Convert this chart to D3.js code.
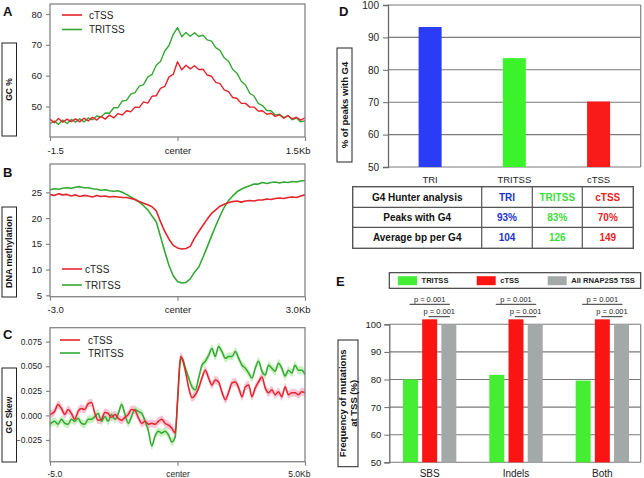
<!DOCTYPE html>
<html><head><meta charset="utf-8">
<script src="https://cdn.jsdelivr.net/npm/d3@7"></script>
<style>body{margin:0;background:#fff}svg{display:block;font-family:"Liberation Sans",Arial,Helvetica,sans-serif}</style>
</head><body><svg id="c" width="644" height="478"></svg>
<script>
// ---------- DATA ----------
const seriesNames = ['cTSS', 'TRITSS'];
// Panel A: GC %
const aKb = [-1.5,-1.45,-1.4,-1.35,-1.3,-1.25,-1.2,-1.15,-1.1,-1.05,-1,-0.95,-0.9,-0.85,-0.8,-0.75,-0.7,-0.65,-0.6,-0.55,-0.5,-0.45,-0.4,-0.35,-0.3,-0.25,-0.2,-0.15,-0.1,-0.05,0,0.05,0.1,0.15,0.2,0.25,0.3,0.35,0.4,0.45,0.5,0.55,0.6,0.65,0.7,0.75,0.8,0.85,0.9,0.95,1,1.05,1.1,1.15,1.2,1.25,1.3,1.35,1.4,1.45,1.5];
const aTRITSS = [44.4,45.3,44.2,45.6,44.5,45.8,44.9,46.0,45.0,46.3,45.7,46.9,46.6,47.9,47.8,49.6,49.6,51.8,52.0,54.0,54.5,56.6,57.1,59.5,60.4,63.4,64.6,68.0,69.8,73.4,75.6,72.6,74.0,72.8,73.9,72.7,73.1,71.6,71.2,69.1,68.2,65.8,64.7,62.0,60.8,58.2,57.0,54.3,53.4,51.0,50.3,48.7,48.6,47.2,47.5,46.4,47.0,45.7,46.3,45.0,45.4];
const aCTSS = [45.9,44.7,46.1,44.9,45.9,45.1,46.0,45.0,46.2,45.3,46.5,45.6,46.8,45.9,47.2,46.3,47.7,47.2,48.6,48.3,49.8,49.7,51.5,51.1,53.3,53.5,55.9,56.5,59.6,60.4,64.5,61.9,63.4,62.2,63.2,62.0,62.1,60.2,59.8,57.8,57.4,55.4,54.8,52.9,52.6,51.0,51.0,49.8,49.8,48.5,48.6,47.5,47.8,46.8,47.3,46.2,47.0,46.0,46.5,45.6,46.3];
const aYTicks = [50, 60, 70, 80];
const aXTicks = [-1.5, 0, 1.5];
const aXLabels = ['-1.5', 'center', '1.5Kb'];

// Panel B: DNA methylation
const bKb = [-3,-2.9,-2.8,-2.7,-2.6,-2.5,-2.4,-2.3,-2.2,-2.1,-2,-1.9,-1.8,-1.7,-1.6,-1.5,-1.4,-1.3,-1.2,-1.1,-1,-0.9,-0.8,-0.7,-0.6,-0.5,-0.4,-0.3,-0.2,-0.1,0,0.1,0.2,0.3,0.4,0.5,0.6,0.7,0.8,0.9,1,1.1,1.2,1.3,1.4,1.5,1.6,1.7,1.8,1.9,2,2.1,2.2,2.3,2.4,2.5,2.6,2.7,2.8,2.9,3];
const bTRITSS = [25.5,25.7,25.6,25.8,25.9,25.8,26.0,26.1,25.9,25.9,25.7,25.6,25.4,25.5,25.3,25.2,25.3,25.0,24.6,24.1,23.6,23.1,22.4,21.6,20.4,19.3,16.4,13.5,10.8,8.8,7.7,7.4,7.5,8.2,9.5,10.5,12.4,14.4,16.5,18.5,20.4,22.1,23.4,24.3,25.1,25.6,26.0,26.3,26.6,26.6,26.9,26.7,26.9,27.0,26.8,27.0,26.9,27.1,27.0,27.2,27.3];
const bCTSS = [24.6,24.4,24.7,24.5,24.6,24.3,24.5,24.2,24.4,24.3,24.1,24.4,24.2,24.3,24.1,24.2,24.1,24.0,24.0,23.8,23.6,23.2,22.9,22.6,22.2,21.4,19.3,17.4,15.9,14.7,14.2,14.0,14.1,14.5,16.1,17.4,18.6,19.8,20.9,21.6,22.3,22.7,23.0,23.2,23.3,23.1,23.3,23.4,23.3,23.5,23.5,23.7,23.6,23.8,23.9,23.8,24.0,24.1,24.0,24.3,24.5];
const bYTicks = [5, 10, 15, 20, 25];
const bXTicks = [-3, 0, 3];
const bXLabels = ['-3.0', 'center', '3.0Kb'];

// Panel C: GC skew
const cKb = [-5.0,-4.82,-4.69,-4.55,-4.42,-4.29,-4.16,-4.03,-3.90,-3.77,-3.64,-3.50,-3.37,-3.24,-3.11,-2.98,-2.85,-2.72,-2.59,-2.45,-2.32,-2.19,-2.06,-1.93,-1.80,-1.67,-1.54,-1.40,-1.27,-1.14,-1.01,-0.88,-0.75,-0.62,-0.49,-0.35,-0.22,-0.09,0.0,0.12,0.18,0.31,0.44,0.57,0.70,0.83,0.96,1.09,1.22,1.35,1.48,1.61,1.74,1.88,2.01,2.14,2.27,2.40,2.53,2.66,2.79,2.92,3.05,3.18,3.31,3.44,3.57,3.70,3.83,3.96,4.09,4.22,4.35,4.48,4.61,4.74,4.87,5.0];
const cCTSS = [0.001,0.004,0.011,0.007,0.001,0.006,0.002,-0.004,0.004,0.007,0.006,0.012,0.013,0.002,-0.005,-0.004,0.003,0.002,-0.002,0.001,-0.003,-0.005,-0.002,0.001,0.006,0.005,-0.002,-0.008,-0.006,-0.009,-0.008,-0.009,-0.006,-0.004,-0.008,-0.010,-0.013,-0.018,
  0.015,
  0.060,0.058,0.045,0.028,0.018,0.021,0.028,0.038,0.046,0.038,0.031,0.036,0.034,0.024,0.016,0.024,0.033,0.034,0.028,0.019,0.029,0.031,0.019,0.028,0.034,0.039,0.028,0.023,0.026,0.021,0.024,0.019,0.029,0.021,0.023,0.023,0.021,0.024,0.023];
const cTRITSS = [-0.009,-0.006,-0.009,-0.004,-0.008,-0.009,-0.004,-0.006,-0.003,-0.008,-0.009,-0.004,-0.004,-0.001,0.002,-0.006,-0.001,-0.006,0.001,-0.004,0.002,0.011,0.001,-0.008,-0.001,0.006,0.004,0.002,-0.006,-0.016,-0.031,-0.021,-0.016,-0.018,-0.016,-0.020,-0.027,-0.022,
  0.012,
  0.056,0.058,0.048,0.038,0.029,0.026,0.038,0.051,0.055,0.061,0.068,0.060,0.070,0.065,0.058,0.060,0.060,0.065,0.058,0.051,0.048,0.043,0.038,0.048,0.055,0.045,0.041,0.051,0.048,0.045,0.053,0.048,0.040,0.046,0.043,0.051,0.046,0.046,0.042];
const cBand = 0.004;
const cYTicks = [-0.025, 0, 0.025, 0.05, 0.075];
const cXTicks = [-5, 0, 5];
const cXLabels = ['-5.0', 'center', '5.0Kb'];

// Panel D: % of peaks with G4
const dCategories = ['TRI', 'TRITSS', 'cTSS'];
const dValues = [93.2, 83.6, 70.2];
const dYTicks = [50, 60, 70, 80, 90, 100];

// Table
const tHeader = ['G4 Hunter analysis', 'TRI', 'TRITSS', 'cTSS'];
const tRows = [['Peaks with G4', '93%', '83%', '70%'], ['Average bp per G4', '104', '126', '149']];

// Panel E: frequency of mutations at TSS
const eGroups = ['SBS', 'Indels', 'Both'];
const eSeries = ['TRITSS', 'cTSS', 'All RNAP2S5 TSS'];
const eTRITSS = [80.0, 81.7, 79.6];
const eCTSS = [101.8, 101.8, 101.8];
const eAll = [100, 100, 100];
const ePLabel = 'p = 0.001';
const eYTicks = [50, 60, 70, 80, 90, 100];

// ---------- STYLE ----------
const RED = '#e6242c', GREEN = '#34a834';
const RED_BAND = '#f7b9cb', GREEN_BAND = '#bdeeb2';
const FRAME = '#858585';
const svg = d3.select('#c');

function letter(t, x, y) {
  svg.append('text').attr('x', x).attr('y', y).text(t)
    .attr('font-weight', 'bold').attr('font-size', 13).attr('fill', '#111');
}
function yLabelBox(x, y, w, h, lines, fs) {
  svg.append('rect').attr('x', x).attr('y', y).attr('width', w).attr('height', h)
    .attr('fill', '#fff').attr('stroke', '#222').attr('stroke-width', 1);
  const cx = x + w / 2, cy = y + h / 2;
  const n = lines.length, lh = fs * 1.1;
  lines.forEach((l, i) => {
    const lx = cx + (i - (n - 1) / 2) * lh;
    svg.append('text').attr('transform', `translate(${lx},${cy}) rotate(-90)`)
      .attr('text-anchor', 'middle').attr('dy', '0.35em')
      .attr('font-weight', 'bold').attr('font-size', fs).attr('fill', '#111').text(l);
  });
}

function profile(o) {
  const g = svg.append('g');
  const x = d3.scaleLinear().domain(o.xDom).range([o.L, o.R]);
  const y = d3.scaleLinear().domain(o.yDom).range([o.B, o.T]);
  const series = [
    { v: o.tri, c: GREEN, band: GREEN_BAND },
    { v: o.ctss, c: RED, band: RED_BAND }
  ];
  const curve = o.curve || d3.curveLinear;
  if (o.band) {
    series.forEach(s => {
      const area = d3.area().x((d, i) => x(o.xs[i])).y0(d => y(d - o.band)).y1(d => y(d + o.band)).curve(curve);
      g.append('path').datum(s.v).attr('d', area).attr('fill', s.band).attr('opacity', 0.85);
    });
  }
  series.forEach(s => {
    const line = d3.line().x((d, i) => x(o.xs[i])).y(d => y(d)).curve(curve);
    g.append('path').datum(s.v).attr('d', line).attr('fill', 'none')
      .attr('stroke', s.c).attr('stroke-width', o.lw).attr('stroke-linejoin', 'round');
  });
  g.append('rect').attr('x', o.L).attr('y', o.T).attr('width', o.R - o.L).attr('height', o.B - o.T)
    .attr('fill', 'none').attr('stroke', FRAME).attr('stroke-width', 1.3);
  const ya = g.append('g').attr('transform', `translate(${o.L},0)`)
    .call(d3.axisLeft(y).tickValues(o.yTicks).tickSize(4).tickPadding(4).tickFormat(o.yFmt));
  const xa = g.append('g').attr('transform', `translate(0,${o.B})`)
    .call(d3.axisBottom(x).tickValues(o.xTicks).tickSize(4).tickPadding(4).tickFormat((d, i) => o.xLabels[i]));
  [ya, xa].forEach(a => {
    a.select('.domain').remove();
    a.selectAll('line').attr('stroke', FRAME).attr('stroke-width', 1.2);
    a.selectAll('text').attr('font-size', o.fs).attr('fill', '#222').attr('font-family', null);
  });
  xa.selectAll('text').attr('dy', '0.9em');
  xa.selectAll('.tick').filter((d, i) => i === 0).select('text').attr('text-anchor', 'start').attr('dx', -3);
  xa.selectAll('.tick').filter((d, i) => i === o.xTicks.length - 1).select('text').attr('text-anchor', 'end').attr('dx', 5);
  // legend
  const lg = o.legend;
  [[seriesNames[0], RED], [seriesNames[1], GREEN]].forEach(([n, c], i) => {
    const yy = lg.y + i * lg.dy;
    g.append('line').attr('x1', lg.x).attr('x2', lg.x + 20).attr('y1', yy).attr('y2', yy)
      .attr('stroke', c).attr('stroke-width', 1.6);
    g.append('text').attr('x', lg.tx).attr('y', yy).attr('dy', '0.35em').attr('font-size', 10).attr('fill', '#222').text(n);
  });
}

// A
profile({ L: 50, R: 305, T: 4, B: 137, xDom: [-1.5, 1.5], yDom: [40.1, 83.25], xs: aKb, tri: aTRITSS, ctss: aCTSS,
  yTicks: aYTicks, yFmt: d3.format('d'), xTicks: aXTicks, xLabels: aXLabels, lw: 1.4, fs: 9.5,
  legend: { x: 62, tx: 89, y: 15, dy: 14.5 } });
letter('A', 3, 16);
yLabelBox(2, 43, 14.5, 93, ['GC %'], 8.5);

// B
profile({ L: 50, R: 305, T: 164, B: 296.7, xDom: [-3, 3], yDom: [4.73, 30.5], xs: bKb, tri: bTRITSS, ctss: bCTSS,
  yTicks: bYTicks, yFmt: d3.format('d'), xTicks: bXTicks, xLabels: bXLabels, lw: 1.6, fs: 9.5,
  legend: { x: 62, tx: 85, y: 269, dy: 16 } });
letter('B', 3, 177);
yLabelBox(2, 207, 14.5, 90, ['DNA methylation'], 9);

// C
profile({ L: 50, R: 305, T: 327.7, B: 461.7, xDom: [-5, 5], yDom: [-0.0471, 0.0892], xs: cKb, tri: cTRITSS, ctss: cCTSS,
  yTicks: cYTicks, yFmt: d3.format('.3f'), xTicks: cXTicks, xLabels: cXLabels, lw: 1.5, fs: 8.5, band: cBand,
  curve: d3.curveMonotoneX,
  legend: { x: 60, tx: 88, y: 340, dy: 13 } });
letter('C', 3, 339);
yLabelBox(2, 368, 14.5, 94, ['GC Skew'], 8.5);

// ---------- D ----------
(function () {
  const L = 388, R = 640.7, T = 5, B = 167;
  const g = svg.append('g');
  const x = d3.scaleBand().domain(dCategories).range([L, R]).paddingInner(0.727).paddingOuter(0.3635);
  const y = d3.scaleLinear().domain([50, 100]).range([B, T]);
  const colors = { TRI: '#2a3cf5', TRITSS: '#3cf22a', cTSS: '#fa1a1a' };
  g.selectAll('line.grid').data(dYTicks).join('line').attr('class', 'grid')
    .attr('x1', L).attr('x2', R).attr('y1', d => y(d)).attr('y2', d => y(d))
    .attr('stroke', '#7a7a7a').attr('stroke-width', 1.1);
  g.selectAll('rect.bar').data(dCategories).join('rect').attr('class', 'bar')
    .attr('x', d => x(d)).attr('width', x.bandwidth())
    .attr('y', (d, i) => y(dValues[i])).attr('height', (d, i) => y(50) - y(dValues[i]))
    .attr('fill', d => colors[d]);
  g.append('line').attr('x1', R).attr('x2', R).attr('y1', T).attr('y2', B).attr('stroke', '#7a7a7a').attr('stroke-width', 1.1);
  const ya = g.append('g').attr('transform', `translate(${L},0)`)
    .call(d3.axisLeft(y).tickValues(dYTicks).tickSize(5).tickPadding(4));
  ya.select('.domain').attr('stroke', '#6a6a6a').attr('stroke-width', 1.3);
  ya.selectAll('line').attr('stroke', '#6a6a6a');
  ya.selectAll('text').attr('font-size', 10).attr('fill', '#222').attr('font-family', null);
  const xa = g.append('g').attr('transform', `translate(0,${B})`)
    .call(d3.axisBottom(x).tickSize(0).tickPadding(9));
  xa.select('.domain').remove();
  xa.selectAll('text').attr('font-size', 9.5).attr('fill', '#222').attr('font-family', null);
  letter('D', 339, 16);
  yLabelBox(337, 48, 15, 114, ['% of peaks with G4'], 9.5);

  // table
  const cols = [352.7, 481.7, 532.3, 582.3, 633.3];
  const rows = [186.7, 207.3, 227.3, 248.3];
  const tColors = ['#111', '#2233cc', '#3ddc3d', '#e82424'];
  g.append('rect').attr('x', cols[0]).attr('y', rows[0]).attr('width', cols[4] - cols[0]).attr('height', rows[3] - rows[0])
    .attr('fill', 'none').attr('stroke', '#555').attr('stroke-width', 1.4);
  cols.slice(1, 4).forEach(cx => g.append('line').attr('x1', cx).attr('x2', cx).attr('y1', rows[0]).attr('y2', rows[3]).attr('stroke', '#555').attr('stroke-width', 1.2));
  rows.slice(1, 3).forEach(ry => g.append('line').attr('x1', cols[0]).attr('x2', cols[4]).attr('y1', ry).attr('y2', ry).attr('stroke', '#555').attr('stroke-width', 1.2));
  [tHeader].concat(tRows).forEach((r, ri) => {
    r.forEach((t, ci) => {
      g.append('text').attr('x', (cols[ci] + cols[ci + 1]) / 2).attr('y', (rows[ri] + rows[ri + 1]) / 2)
        .attr('dy', '0.36em').attr('text-anchor', 'middle').attr('font-weight', 'bold')
        .attr('font-size', 10).attr('fill', tColors[ci]).text(t);
    });
  });
})();

// ---------- E ----------
(function () {
  const L = 389.3, R = 640.7, T = 324.3, B = 462.3;
  const g = svg.append('g');
  const x0 = d3.scaleBand().domain(eGroups).range([386.5, 645.5]);
  const x1 = d3.scaleBand().domain(eSeries).range([x0.bandwidth() / 2 - 28.8, x0.bandwidth() / 2 + 28.8]).paddingInner(0.219).paddingOuter(0.1095);
  const y = d3.scaleLinear().domain([50, 100]).range([B, T]);
  const colors = { 'TRITSS': '#45ee33', 'cTSS': '#fb1414', 'All RNAP2S5 TSS': '#a3a8a9' };
  const vals = { 'TRITSS': eTRITSS, 'cTSS': eCTSS, 'All RNAP2S5 TSS': eAll };
  g.selectAll('line.grid').data(eYTicks).join('line').attr('class', 'grid')
    .attr('x1', L).attr('x2', R).attr('y1', d => y(d)).attr('y2', d => y(d))
    .attr('stroke', '#7a7a7a').attr('stroke-width', 1.1);
  eGroups.forEach((gr, gi) => {
    eSeries.forEach(s => {
      const v = vals[s][gi];
      g.append('rect').attr('x', x0(gr) + x1(s)).attr('width', x1.bandwidth())
        .attr('y', y(v)).attr('height', y(50) - y(v)).attr('fill', colors[s]);
    });
    const cG = x0(gr) + x1(eSeries[0]) + x1.bandwidth() / 2;
    const cR = x0(gr) + x1(eSeries[1]) + x1.bandwidth() / 2;
    const cA = x0(gr) + x1(eSeries[2]) + x1.bandwidth() / 2;
    [[cG, cA, 304.3], [cR, cA, 316.7]].forEach(([a, b, yy]) => {
      g.append('line').attr('x1', a - 1).attr('x2', b + 1).attr('y1', yy).attr('y2', yy).attr('stroke', '#333').attr('stroke-width', 1);
      g.append('text').attr('x', (a + b) / 2).attr('y', yy - 2.8).attr('text-anchor', 'middle')
        .attr('font-size', 7.5).attr('fill', '#222').text(ePLabel);
    });
  });
  g.append('line').attr('x1', R).attr('x2', R).attr('y1', T).attr('y2', B).attr('stroke', '#7a7a7a').attr('stroke-width', 1.1);
  const ya = g.append('g').attr('transform', `translate(${L},0)`)
    .call(d3.axisLeft(y).tickValues(eYTicks).tickSize(5).tickPadding(3));
  ya.select('.domain').attr('stroke', '#6a6a6a').attr('stroke-width', 1.3);
  ya.selectAll('line').attr('stroke', '#6a6a6a');
  ya.selectAll('text').attr('font-size', 9.5).attr('fill', '#222').attr('font-family', null);
  const xa = g.append('g').attr('transform', `translate(0,${B})`)
    .call(d3.axisBottom(x0).tickSize(0).tickPadding(8));
  xa.select('.domain').remove();
  xa.selectAll('text').attr('font-size', 10).attr('fill', '#222').attr('font-family', null);
  // legend
  g.append('rect').attr('x', 389.3).attr('y', 272.7).attr('width', 251.4).attr('height', 15.6)
    .attr('fill', '#fff').attr('stroke', '#333').attr('stroke-width', 1.1);
  const lx = [398, 476.7, 547.7];
  eSeries.forEach((s, i) => {
    g.append('rect').attr('x', lx[i]).attr('y', 276.2).attr('width', 19).attr('height', 9).attr('fill', colors[s]);
    g.append('text').attr('x', lx[i] + 23.5).attr('y', 280.7).attr('dy', '0.36em')
      .attr('font-size', 7.6).attr('font-weight', 'bold').attr('fill', '#222').text(s);
  });
  letter('E', 336, 286);
  yLabelBox(338, 340, 20, 126.7, ['Frequency of mutations', 'at TSS (%)'], 9.5);
})();
</script>
</body></html>
